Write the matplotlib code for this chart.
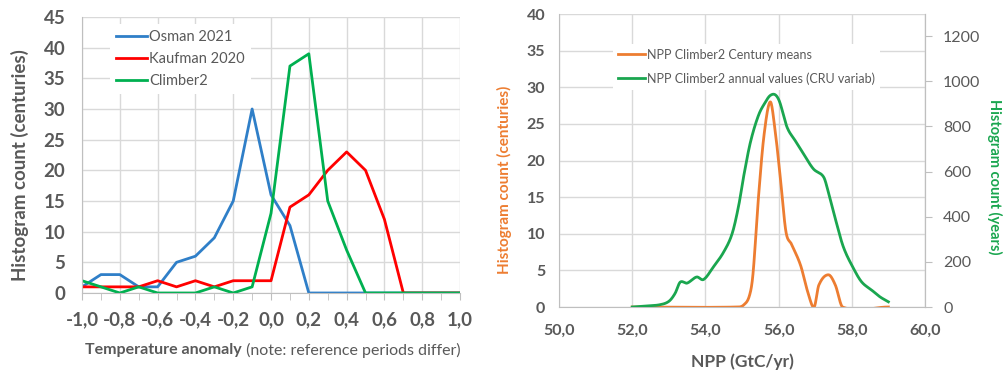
import numpy as np
import matplotlib
matplotlib.use('Agg')
import matplotlib.pyplot as plt
from matplotlib.ticker import MultipleLocator, FuncFormatter

# left panel: histogram of temperature anomaly (centuries)
anomaly = [-1.0, -0.9, -0.8, -0.7, -0.6, -0.5, -0.4, -0.3, -0.2, -0.1, 0.0,
           0.1, 0.2, 0.3, 0.4, 0.5, 0.6, 0.7, 0.8, 0.9, 1.0]
osman = [1, 3, 3, 1, 1, 5, 6, 9, 15, 30, 16, 11, 0, 0, 0, 0, 0, 0, 0, 0, 0]
kaufman = [1, 1, 1, 1, 2, 1, 2, 1, 2, 2, 2, 14, 16, 20, 23, 20, 12, 0, 0, 0, 0]
climber = [2, 1, 0, 1, 0, 0, 0, 1, 0, 1, 13, 37, 39, 15, 7, 0, 0, 0, 0, 0, 0]

# right panel: NPP histograms
npp_century_x = [52.0, 54.9, 55.05, 55.2, 55.3, 55.45, 55.6, 55.77, 55.9, 56.05,
                 56.2, 56.35, 56.6, 56.8, 56.97, 57.1, 57.36, 57.55, 57.75, 59.0]
npp_century_y = [0, 0, 0.3, 1.5, 4.5, 15, 23.4, 28, 24.3, 17.5,
                 10.3, 8.6, 5.7, 2, 0, 3, 4.4, 3, 0, 0]
npp_annual_x = [52.0, 52.4, 52.75, 53.0, 53.17, 53.31, 53.5, 53.76, 53.95, 54.22,
                54.5, 54.73, 54.91, 55.05, 55.23, 55.45, 55.64, 55.77, 55.91, 56.03,
                56.23, 56.45, 56.68, 56.95, 57.23, 57.36, 57.55, 57.77, 58.05, 58.27,
                58.55, 58.77, 59.0]
npp_annual_y = [0, 5, 10, 25, 60, 110, 106, 133, 122, 178,
                244, 325, 450, 583, 730, 849, 908, 937, 940, 908,
                797, 738, 679, 612, 576, 509, 391, 266, 170, 111,
                74, 45, 23]

GREY = '#595959'
GRID = '#d9d9d9'
plt.rcParams['font.family'] = ['Lato', 'DejaVu Sans']


def smooth(xs, ys, n=25):
    # cubic hermite through the points (like Excel smoothed lines)
    xs = np.asarray(xs, float)
    ys = np.asarray(ys, float)
    m = np.zeros_like(ys)
    m[1:-1] = (ys[2:] - ys[:-2]) / (xs[2:] - xs[:-2])
    m[0] = (ys[1] - ys[0]) / (xs[1] - xs[0])
    m[-1] = (ys[-1] - ys[-2]) / (xs[-1] - xs[-2])
    ox, oy = [], []
    for i in range(len(xs) - 1):
        h = xs[i + 1] - xs[i]
        t = np.linspace(0, 1, n)
        h00 = 2 * t**3 - 3 * t**2 + 1
        h10 = t**3 - 2 * t**2 + t
        h01 = -2 * t**3 + 3 * t**2
        h11 = t**3 - t**2
        ox.extend(xs[i] + t * h)
        oy.extend(h00 * ys[i] + h10 * h * m[i] + h01 * ys[i + 1] + h11 * h * m[i + 1])
    return np.array(ox), np.array(oy)


comma = FuncFormatter(lambda v, _: f"{v:.1f}".replace('.', ','))

fig = plt.figure(figsize=(10.04, 3.74), dpi=100)

# ---- left chart
ax = fig.add_axes([0.0817, 0.2166, 0.3765, 0.738])
ax.plot(anomaly, osman, color='#2f7fc8', lw=2, label='Osman 2021')
ax.plot(anomaly, kaufman, color='#ff0000', lw=2, label='Kaufman 2020')
ax.plot(anomaly, climber, color='#00b050', lw=2, label='Climber2')
ax.set_xlim(-1.0, 1.0)
ax.set_ylim(0, 45)
ax.xaxis.set_major_locator(MultipleLocator(0.2))
ax.xaxis.set_minor_locator(MultipleLocator(0.1))
ax.xaxis.set_major_formatter(comma)
ax.yaxis.set_major_locator(MultipleLocator(5))
ax.grid(True, color=GRID, lw=1)
ax.set_axisbelow(True)
for s in ['top', 'right']:
    ax.spines[s].set_visible(False)
for s in ['left', 'bottom']:
    ax.spines[s].set_color('#bfbfbf')
ax.tick_params(axis='x', which='both', length=5, color='#bfbfbf', labelsize=13.5,
               labelcolor=GREY, pad=8)
ax.tick_params(axis='y', length=0, labelsize=13.5, labelcolor=GREY, pad=12)
for lab in ax.get_xticklabels() + ax.get_yticklabels():
    lab.set_fontweight('bold')
ax.set_ylabel('Histogram count (centuries)', fontsize=13.5, fontweight='bold',
              color=GREY, va='center')
ax.yaxis.set_label_coords(-0.165, 0.464)
leg = ax.legend(loc='upper left', bbox_to_anchor=(0.055, 1.0), fontsize=10.5,
                frameon=True, framealpha=1, edgecolor='none', handlelength=2.1,
                handletextpad=0.2, labelspacing=0.55, borderpad=0.4, fancybox=False)
for t in leg.get_texts():
    t.set_color(GREY)

# x label with bold + regular parts
fig.canvas.draw()
r = fig.canvas.get_renderer()
t1 = fig.text(0, 1 - 350 / 374, 'Temperature anomaly', fontsize=11.5,
              fontweight='bold', color=GREY, va='center')
t2 = fig.text(0, 1 - 350 / 374, ' (note: reference periods differ)', fontsize=11.5,
              color=GREY, va='center')
w1 = t1.get_window_extent(r).width
w2 = t2.get_window_extent(r).width
x0 = 273 - (w1 + w2) / 2
t1.set_x(x0 / 1004)
t2.set_x((x0 + w1) / 1004)

# ---- right chart
bx = fig.add_axes([0.5568, 0.1791, 0.3645, 0.7834])
cx, cy = smooth(npp_century_x, npp_century_y)
bx.plot(cx, cy, color='#ed7d31', lw=2, label='NPP Climber2 Century means')
bx.set_xlim(50, 60)
bx.set_ylim(0, 40)
bx.xaxis.set_major_locator(MultipleLocator(2))
bx.xaxis.set_major_formatter(comma)
bx.yaxis.set_major_locator(MultipleLocator(5))
bx.grid(True, color=GRID, lw=1)
bx.set_axisbelow(True)
bx.spines['top'].set_visible(False)
for s in ['left', 'bottom', 'right']:
    bx.spines[s].set_color('#bfbfbf')
bx.tick_params(axis='x', length=0, labelsize=11.5, labelcolor=GREY, pad=12)
bx.tick_params(axis='y', length=0, labelsize=11.5, labelcolor=GREY, pad=10)
for lab in bx.get_xticklabels() + bx.get_yticklabels():
    lab.set_fontweight('bold')
bx.set_ylabel('Histogram count (centuries)', fontsize=11, fontweight='bold',
              color='#ed7d31', va='center')
bx.yaxis.set_label_coords(-0.148, 0.433)
bx.set_xlabel('NPP (GtC/yr)', fontsize=12.5, fontweight='bold', color=GREY, labelpad=11)

tx = bx.twinx()
gx, gy = smooth(npp_annual_x, npp_annual_y)
tx.plot(gx, gy, color='#1aa64f', lw=2, label='NPP Climber2 annual values (CRU variab)')
tx.set_ylim(0, 1298)
tx.yaxis.set_major_locator(MultipleLocator(200))
for s in ['top', 'left', 'bottom']:
    tx.spines[s].set_visible(False)
tx.spines['right'].set_color('#bfbfbf')
tx.tick_params(axis='y', length=5, color='#bfbfbf', labelsize=11.5, labelcolor=GREY, pad=8)
tx.set_ylabel('Histogram count (years)', fontsize=10.5, fontweight='bold',
              color='#1aa64f', rotation=-90, va='center')
tx.yaxis.set_label_coords(1.19, 0.444)

h1, l1 = bx.get_legend_handles_labels()
h2, l2 = tx.get_legend_handles_labels()
leg2 = tx.legend(h1 + h2, l1 + l2, loc='upper left', bbox_to_anchor=(0.13, 0.92),
                 fontsize=9, frameon=True, framealpha=1, edgecolor='none',
                 handlelength=2.2, handletextpad=0.1, labelspacing=0.9,
                 borderpad=0.4, fancybox=False)
for t in leg2.get_texts():
    t.set_color(GREY)

fig.savefig('out.png', dpi=100)
